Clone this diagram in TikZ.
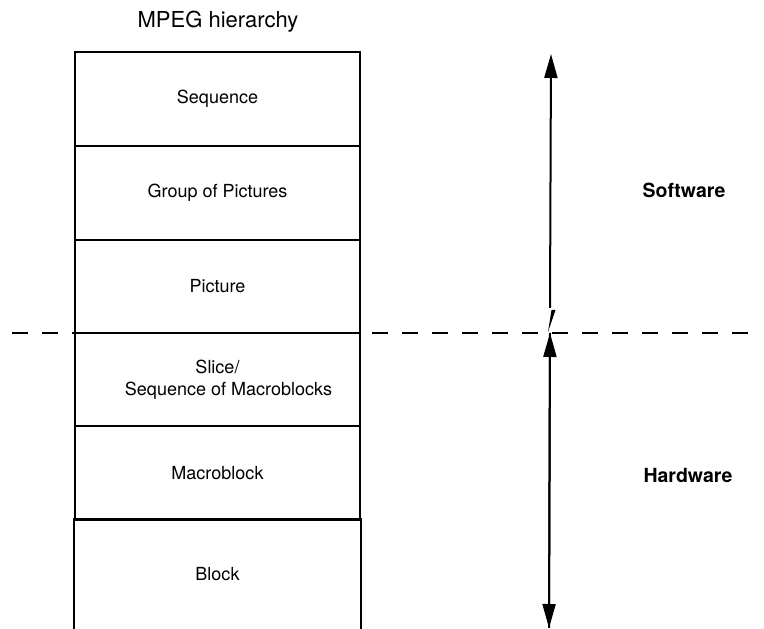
\documentclass[tikz,border=0pt]{standalone}
\usepackage{fontspec}
\setmainfont{TeX Gyre Heros}
\usetikzlibrary{arrows.meta}
\begin{document}
\begin{tikzpicture}[x=1pt,y=1pt,
  layer/.style={draw, line width=1.9pt, minimum width=285pt, minimum height=94pt, inner sep=0pt, align=center, font=\fontsize{18}{22}\selectfont},
  side/.style={font=\bfseries\fontsize{19.5}{24}\selectfont},
  span/.style={line width=2pt, -{Triangle[length=24pt,width=13pt]}},
  sep/.style={line width=1.8pt, dash pattern=on 16pt off 14pt}]
\useasboundingbox (0,0) rectangle (764,629);
\node[font=\fontsize{22}{26}\selectfont] (title) at (218,607) {MPEG hierarchy};
\node[layer] (seq) at (217.5,530) {Sequence};
\node[layer] (gop) at (217.5,436) {Group of Pictures};
\node[layer, minimum height=93pt] (pic) at (217.5,342.5) {Picture};
\node[layer, minimum height=93pt] (slice) at (217.5,249.5) {Slice/\\\hspace*{22pt}Sequence of Macroblocks};
\node[layer] (mb) at (217.5,156) {Macroblock};
\node[layer, draw=none, minimum height=109pt] (blk) at (217.5,54.5) {Block};
\draw[line width=1.9pt] (blk.south west) -- (blk.north west) -- (blk.north east) -- (blk.south east);
\node[side] (sw) at (684,439) {Software};
\node[side] (hw) at (688,154) {Hardware};
\coordinate (swtop) at (551,575);
\coordinate (swbot) at (550,321);
\coordinate (hwtop) at (550,296);
\coordinate (hwbot) at (549,1);
\coordinate (tickA) at (555.5,319);
\coordinate (tickB) at (548,297);
\coordinate (dashL) at (12,296);
\coordinate (dashR) at (758,296);
\draw[span] (swbot) -- (swtop);
\draw[span] (hwbot) -- (hwtop);
\draw[span] (hwtop) -- (hwbot);
\fill (tickA) -- ++(-4,0) -- (tickB) -- cycle;
\draw[sep] (dashL) -- (dashR);
\end{tikzpicture}
\end{document}
